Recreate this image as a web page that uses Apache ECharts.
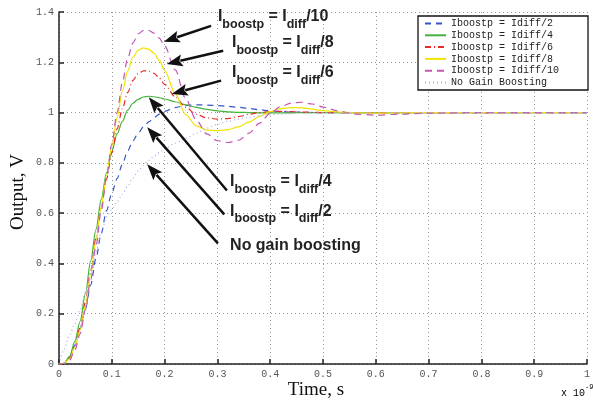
<!DOCTYPE html>
<html><head><meta charset="utf-8">
<script src="https://cdn.jsdelivr.net/npm/echarts@6/dist/echarts.min.js"></script>
<style>html,body{margin:0;padding:0;background:#fff}#c{width:593px;height:400px}</style>
</head><body><div id="c"></div>
<script>
// time axis (units of 1e-9 s)
const time = [0,0.01,0.02,0.03,0.04,0.05,0.06,0.07,0.08,0.09,0.10,0.11,0.12,0.13,0.14,0.15,0.16,0.17,0.18,0.19,0.20,0.22,0.24,0.26,0.28,0.30,0.32,0.34,0.36,0.38,0.40,0.42,0.44,0.46,0.48,0.50,0.53,0.56,0.60,0.65,0.70,0.80,0.90,1.00];

const seriesNames = ['Iboostp = Idiff/2','Iboostp = Idiff/4','Iboostp = Idiff/6','Iboostp = Idiff/8','Iboostp = Idiff/10','No Gain Boosting'];

const idiff2 = [0,0.003,0.025,0.075,0.14,0.22,0.315,0.42,0.52,0.61,0.68,0.737,0.795,0.847,0.888,0.918,0.943,0.963,0.98,0.994,1.005,1.02,1.028,1.031,1.03,1.028,1.025,1.021,1.016,1.011,1.007,1.004,1.002,1.001,1.0,1.0,1.0,1.0,1.0,1.0,1.0,1.0,1.0,1.0];
const idiff4 = [0,0.003,0.03,0.09,0.17,0.28,0.41,0.535,0.655,0.76,0.845,0.915,0.965,1.01,1.037,1.053,1.062,1.065,1.063,1.059,1.054,1.043,1.031,1.021,1.013,1.007,1.003,1.001,1.0,0.999,0.999,0.999,0.999,1.0,1.0,1.0,1.0,1.0,1.0,1.0,1.0,1.0,1.0,1.0];
const idiff6 = [0,0.002,0.022,0.07,0.145,0.245,0.37,0.5,0.625,0.735,0.84,0.935,1.015,1.08,1.128,1.155,1.166,1.165,1.156,1.137,1.112,1.063,1.021,0.993,0.979,0.974,0.976,0.984,0.993,1.0,1.004,1.005,1.004,1.002,1.001,1.0,1.0,1.0,1.0,1.0,1.0,1.0,1.0,1.0];
const idiff8 = [0,0.002,0.02,0.065,0.135,0.23,0.355,0.49,0.625,0.75,0.865,0.98,1.085,1.165,1.22,1.248,1.257,1.252,1.236,1.207,1.168,1.075,0.992,0.947,0.93,0.928,0.932,0.943,0.962,0.985,1.004,1.016,1.02,1.019,1.014,1.008,1.002,0.999,0.998,0.999,1.0,1.0,1.0,1.0];
const idiff10 = [0,0.001,0.015,0.055,0.12,0.215,0.335,0.47,0.61,0.745,0.875,1.0,1.12,1.215,1.277,1.313,1.327,1.327,1.316,1.296,1.265,1.17,1.055,0.97,0.915,0.888,0.881,0.89,0.918,0.958,0.997,1.024,1.038,1.041,1.034,1.022,1.006,0.994,0.99,0.994,0.998,1.0,1.0,1.0];
const noGain = [0,0.06,0.115,0.16,0.215,0.285,0.36,0.445,0.52,0.585,0.615,0.645,0.675,0.708,0.74,0.768,0.79,0.81,0.826,0.841,0.855,0.878,0.898,0.918,0.938,0.953,0.965,0.974,0.981,0.987,0.991,0.994,0.996,0.998,0.999,1.0,1.0,1.0,1.0,1.0,1.0,1.0,1.0,1.0];

const xTicks = [0,0.1,0.2,0.3,0.4,0.5,0.6,0.7,0.8,0.9,1];
const yTicks = [0,0.2,0.4,0.6,0.8,1,1.2,1.4];

// annotations (data coordinates): arrow tail -> arrow tip, label anchor = left/baseline
const arrowTails = [[0.288,1.345],[0.311,1.246],[0.307,1.127],[0.318,0.690],[0.313,0.595],[0.301,0.480]];
const arrowTips  = [[0.1985,1.282],[0.204,1.193],[0.2135,1.074],[0.170,1.061],[0.167,0.942],[0.167,0.794]];
const labelTexts = ['{m|I}{s|boostp}{m| = I}{s|diff}{m|/10}','{m|I}{s|boostp}{m| = I}{s|diff}{m|/8}','{m|I}{s|boostp}{m| = I}{s|diff}{m|/6}','{m|I}{s|boostp}{m| = I}{s|diff}{m|/4}','{m|I}{s|boostp}{m| = I}{s|diff}{m|/2}','{m|No gain boosting}'];
const labelAnchors = [[0.301,1.349],[0.3277,1.245],[0.3277,1.126],[0.324,0.692],[0.324,0.575],[0.324,0.440]];

const colors = ['#3555c8','#45b23a','#e42a2a','#f0e400','#c257b5','#a8acea'];
const dashes = [[6,5],'solid',[6,3,1,3],'solid',[7,5],[1,3]];
const values = [idiff2, idiff4, idiff6, idiff8, idiff10, noGain];

const chart = echarts.init(document.getElementById('c'), null, {renderer:'canvas'});

const series = values.map((vals, i) => ({
  name: seriesNames[i],
  type: 'line',
  data: time.map((t, k) => [t, vals[k]]),
  symbol: 'none',
  smooth: 0.3,
  smoothMonotone: 'x',
  lineStyle: {color: colors[i], width: 1.2, type: dashes[i]},
  itemStyle: {color: colors[i]},
  silent: true,
  z: 3
}));

const fmt = v => String(+v.toFixed(1));
const mono = 'Liberation Mono';

chart.setOption({
  animation: false,
  color: colors,
  grid: {left: 59, right: 0, top: 12, bottom: 36},
  xAxis: {
    type: 'value', min: 0, max: 1, interval: 0.1,
    axisLine: {lineStyle: {color: '#222', width: 1.5}},
    axisTick: {inside: true, length: 5, lineStyle: {color: '#222', width: 1.5}},
    axisLabel: {fontFamily: mono, fontSize: 10, color: '#555', margin: 5, formatter: fmt},
    splitLine: {show: true, lineStyle: {color: '#999', width: 1, type: [1,3]}}
  },
  yAxis: {
    type: 'value', min: 0, max: 1.4, interval: 0.2,
    axisLine: {show: true, lineStyle: {color: '#222', width: 1.5}},
    axisTick: {show: true, inside: true, length: 5, lineStyle: {color: '#222', width: 1.5}},
    axisLabel: {fontFamily: mono, fontSize: 10, color: '#555', margin: 5, formatter: fmt},
    splitLine: {show: true, lineStyle: {color: '#999', width: 1, type: [1,3]}}
  },
  legend: {
    orient: 'vertical', left: 418, top: 16,
    padding: [2, 29, 2, 6],
    itemWidth: 21, itemHeight: 8, itemGap: 0.8,
    icon: 'inherit',
    itemStyle: {opacity: 0},
    borderColor: '#111', borderWidth: 1.3, backgroundColor: '#fff',
    textStyle: {fontFamily: mono, fontSize: 10, color: '#222', lineHeight: 11},
    data: seriesNames
  },
  series: series
});

const rich = {
  m: {fontFamily: 'Liberation Sans', fontWeight: 'bold', fontSize: 16, lineHeight: 22, verticalAlign: 'top', color: '#222'},
  s: {fontFamily: 'Liberation Sans', fontWeight: 'bold', fontSize: 12.5, lineHeight: 12, verticalAlign: 'bottom', color: '#222'}
};
const graphics = [];
// arrows
arrowTails.forEach((t, i) => {
  const a = chart.convertToPixel({gridIndex: 0}, t);
  const b = chart.convertToPixel({gridIndex: 0}, arrowTips[i]);
  const dx = b[0] - a[0], dy = b[1] - a[1];
  const len = Math.sqrt(dx * dx + dy * dy);
  const ux = dx / len, uy = dy / len;
  const headL = 16, headW = 6;
  const bx = b[0] - ux * headL, by = b[1] - uy * headL;
  graphics.push({type: 'line', z: 9, silent: true,
    shape: {x1: a[0], y1: a[1], x2: bx + ux * 2, y2: by + uy * 2},
    style: {stroke: '#111', lineWidth: 2.5}});
  graphics.push({type: 'polygon', z: 9, silent: true,
    shape: {points: [[b[0], b[1]], [bx - uy * headW, by + ux * headW], [bx + ux * 3, by + uy * 3], [bx + uy * headW, by - ux * headW]]},
    style: {fill: '#111'}});
});
labelTexts.forEach((txt, i) => {
  const p = chart.convertToPixel({gridIndex: 0}, labelAnchors[i]);
  graphics.push({type: 'text', x: p[0], y: p[1] - 16, z: 10, silent: true, style: {text: txt, rich: rich, fill: '#222'}});
});
graphics.push({type: 'text', x: 316, y: 390, z: 10, silent: true,
  style: {text: 'Time, s', fontFamily: 'Liberation Serif', fontSize: 19, fill: '#111', align: 'center', verticalAlign: 'middle'}});
graphics.push({type: 'text', x: 18, y: 192, rotation: Math.PI / 2, z: 10, silent: true,
  style: {text: 'Output, V', fontFamily: 'Liberation Serif', fontSize: 19, fill: '#111', align: 'center', verticalAlign: 'middle'}});
graphics.push({type: 'text', x: 561, y: 384, z: 10, silent: true,
  style: {text: '{a|x 10}{b|-9}', rich: {
    a: {fontFamily: mono, fontSize: 10, color: '#555', lineHeight: 14, verticalAlign: 'bottom'},
    b: {fontFamily: mono, fontSize: 7, color: '#555', lineHeight: 8, verticalAlign: 'top'}}}});
chart.setOption({graphic: graphics});
</script>
</body></html>
